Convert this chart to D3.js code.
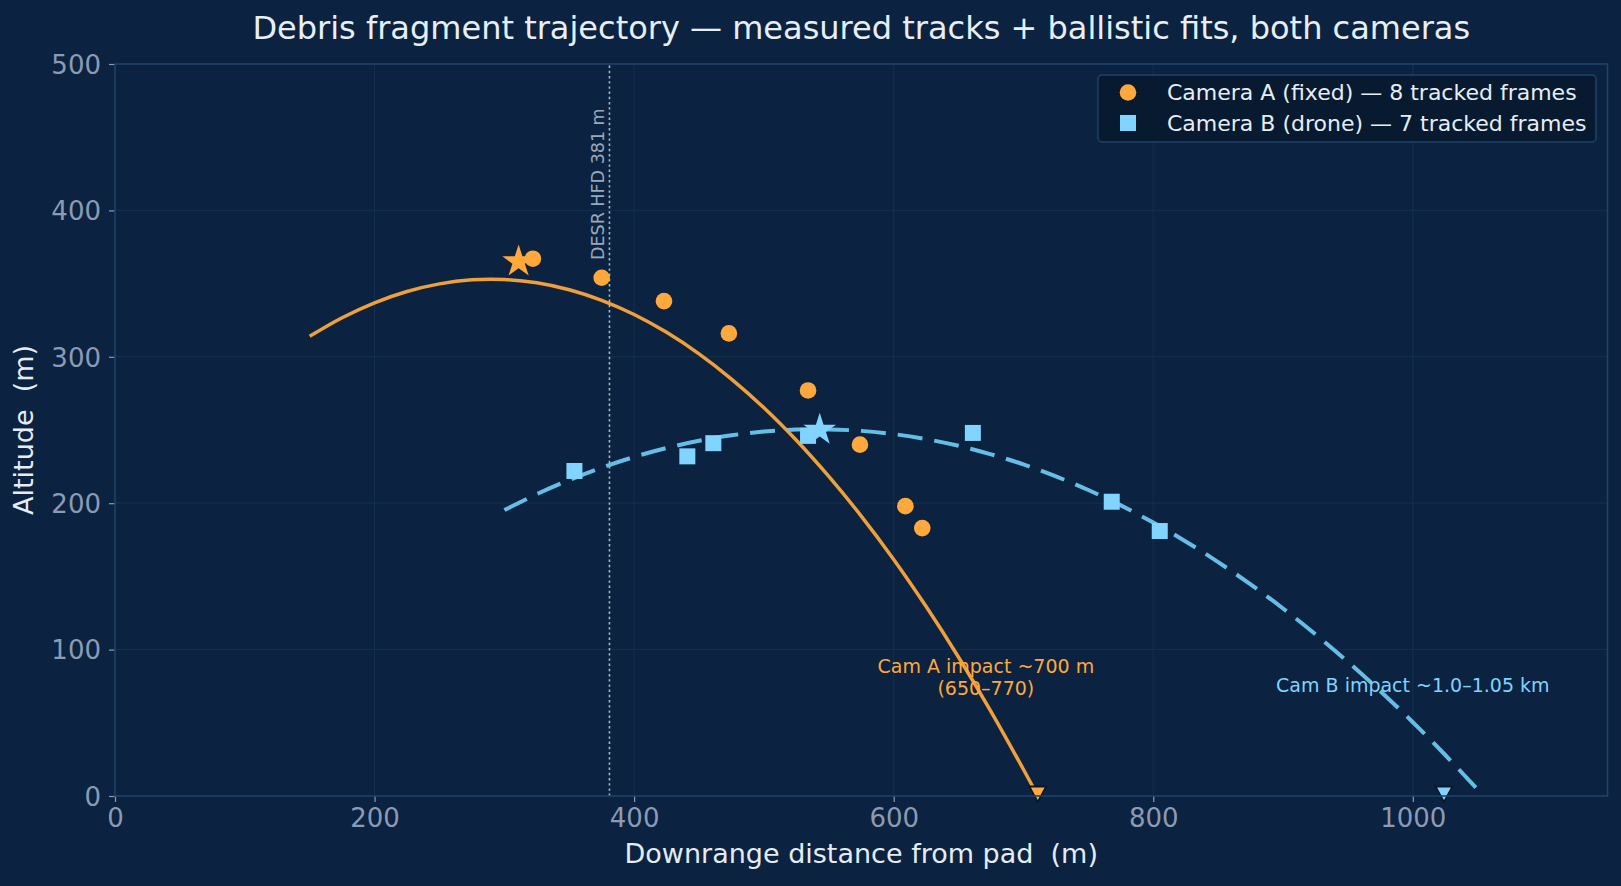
<!DOCTYPE html>
<html>
<head>
<meta charset="utf-8">
<script src="https://d3js.org/d3.v7.min.js"></script>
<style>
  html, body { margin: 0; padding: 0; background: #0b2340; }
  svg { display: block; }
</style>
</head>
<body>
<div id="chart"></div>
<script>
// measured tracks (m)
var camA_x = [322, 375, 423, 473, 534, 574, 609, 622];
var camA_y = [367, 354, 338, 316, 277, 240, 198, 183];
var camB_x = [354, 441, 461, 534, 661, 768, 805];
var camB_y = [222, 232, 241, 246, 248, 201, 181];

// ballistic fits, every 25 m
var fitA_x = [150, 175, 200, 225, 250, 275, 300, 325, 350, 375, 400, 425, 450, 475, 500, 525, 550, 575, 600, 625, 650, 675, 700, 711];
var fitA_y = [314, 326.7, 336.9, 344.6, 349.8, 352.6, 352.8, 350.6, 345.8, 338.6, 328.9, 316.7, 302, 284.8, 265.2, 243, 218.3, 191.2, 161.6, 129.4, 94.8, 57.7, 18.1, 0];
var fitB_x = [300, 325, 350, 375, 400, 425, 450, 475, 500, 525, 550, 575, 600, 625, 650, 675, 700, 725, 750, 775, 800, 825, 850, 875, 900, 925, 950, 975, 1000, 1025, 1052];
var fitB_y = [195.3, 206.2, 215.8, 224.3, 231.6, 237.7, 242.6, 246.4, 248.9, 250.3, 250.4, 249.4, 247.2, 243.8, 239.2, 233.4, 226.5, 218.3, 209, 198.5, 186.8, 173.9, 159.8, 144.5, 128.1, 110.4, 91.6, 71.6, 50.4, 28, 2.4];

// apex stars, impact points, HFD marker
var starA = [311, 365];
var starB = [543, 250];
var impactA = 711;
var impactB = 1024;
var hfd = 381;

var xTicks = [0, 200, 400, 600, 800, 1000];
var yTicks = [0, 100, 200, 300, 400, 500];

var W = 1621, H = 886;
var margin = {top: 64, right: 13.5, bottom: 90, left: 115};
var font = "DejaVu Sans";
var orange = "#ffa83c", orangeLine = "#f0a03a";
var blue = "#80d4ff", blueLine = "#6cc6ee";

var svg = d3.select("#chart").append("svg")
    .attr("width", W)
    .attr("height", H)
    .style("background", "#0b2340");

var x = d3.scaleLinear().domain([0, 1150]).range([margin.left, W - margin.right]);
var y = d3.scaleLinear().domain([0, 500]).range([H - margin.bottom, margin.top]);

svg.append("defs").append("clipPath").attr("id", "plotClip")
  .append("rect")
    .attr("x", x(0)).attr("y", y(500))
    .attr("width", x(1150) - x(0)).attr("height", y(0) - y(500));

// grid
var grid = svg.append("g").attr("class", "grid");
grid.selectAll(".gx").data(xTicks.slice(1)).enter().append("line")
    .attr("x1", function(d){ return x(d); }).attr("x2", function(d){ return x(d); })
    .attr("y1", y(0)).attr("y2", y(500))
    .attr("stroke", "#14304f").attr("stroke-width", 1);
grid.selectAll(".gy").data(yTicks.slice(1, -1)).enter().append("line")
    .attr("x1", x(0)).attr("x2", x(1150))
    .attr("y1", function(d){ return y(d); }).attr("y2", function(d){ return y(d); })
    .attr("stroke", "#14304f").attr("stroke-width", 1);

// axes
var xAxis = svg.append("g")
    .attr("transform", "translate(0," + y(0) + ")")
    .call(d3.axisBottom(x).tickValues(xTicks).tickSize(6).tickPadding(7).tickFormat(d3.format("d")));
var yAxis = svg.append("g")
    .attr("transform", "translate(" + x(0) + ",0)")
    .call(d3.axisLeft(y).tickValues(yTicks).tickSize(6).tickPadding(8).tickFormat(d3.format("d")));
[xAxis, yAxis].forEach(function(a){
  a.select(".domain").remove();
  a.selectAll(".tick line").attr("stroke", "#8b9bb4").attr("stroke-width", 1.2);
  a.selectAll(".tick text")
    .attr("fill", "#8b9bb4")
    .style("font-family", font)
    .style("font-size", "26px");
});
yAxis.selectAll(".tick text").attr("dy", "0.36em");

var plot = svg.append("g").attr("clip-path", "url(#plotClip)");

// DESR HFD line
plot.append("line")
    .attr("x1", x(hfd)).attr("x2", x(hfd))
    .attr("y1", y(0)).attr("y2", y(500))
    .attr("stroke", "#a9b7c9").attr("stroke-width", 1.6)
    .attr("stroke-dasharray", "2.4,2.8");
svg.append("text")
    .attr("transform", "translate(" + (x(hfd) - 5) + "," + 260 + ") rotate(-90)")
    .attr("fill", "#98a8bd")
    .style("font-family", font).style("font-size", "17.5px")
    .text("DESR HFD " + hfd + " m");

var line = d3.line()
    .x(function(d){ return x(d[0]); })
    .y(function(d){ return y(d[1]); })
    .curve(d3.curveCatmullRom);

var fitA = fitA_x.map(function(v, i){ return [v, fitA_y[i]]; });
var fitB = fitB_x.map(function(v, i){ return [v, fitB_y[i]]; });

plot.append("path").datum(fitA)
    .attr("d", line)
    .attr("fill", "none").attr("stroke", orangeLine).attr("stroke-width", 3.5);
plot.append("path").datum(fitB)
    .attr("d", line)
    .attr("fill", "none").attr("stroke", blueLine).attr("stroke-width", 4)
    .attr("stroke-dasharray", "25,12").attr("opacity", 0.95);

// measured points
plot.selectAll(".ptA").data(camA_x).enter().append("circle")
    .attr("cx", function(d){ return x(d); })
    .attr("cy", function(d, i){ return y(camA_y[i]); })
    .attr("r", 8.3)
    .attr("fill", orange);
plot.selectAll(".ptB").data(camB_x).enter().append("rect")
    .attr("x", function(d){ return x(d) - 8; })
    .attr("y", function(d, i){ return y(camB_y[i]) - 8; })
    .attr("width", 16).attr("height", 16)
    .attr("fill", blue);

// apex stars
var star = d3.symbol().type(d3.symbolStar).size(330);
plot.append("path").attr("d", star)
    .attr("transform", "translate(" + x(starA[0]) + "," + y(starA[1]) + ")")
    .attr("fill", orange);
plot.append("path").attr("d", star)
    .attr("transform", "translate(" + x(starB[0]) + "," + y(starB[1]) + ")")
    .attr("fill", blue);

// impact triangles (not clipped, they sit on the axis)
var tri = "M-8.5,-7.5L8.5,-7.5L0,8Z";
[[impactA, orange], [impactB, blue]].forEach(function(p){
  svg.append("path").attr("d", tri)
      .attr("transform", "translate(" + x(p[0]) + "," + (y(0) - 2) + ")")
      .attr("fill", p[1]).attr("stroke", "#0a1628").attr("stroke-width", 1.8);
});

// spines
svg.append("rect")
    .attr("x", x(0)).attr("y", y(500))
    .attr("width", x(1150) - x(0)).attr("height", y(0) - y(500))
    .attr("fill", "none").attr("stroke", "#1f4269").attr("stroke-width", 1.6);

// annotations
var annA = svg.append("text")
    .attr("text-anchor", "middle")
    .attr("fill", orange)
    .style("font-family", font).style("font-size", "19px");
annA.append("tspan").attr("x", x(671)).attr("y", 673).text("Cam A impact ~700 m");
annA.append("tspan").attr("x", x(671)).attr("y", 695).text("(650\u2013770)");
svg.append("text")
    .attr("x", x(1000)).attr("y", 692)
    .attr("text-anchor", "middle")
    .attr("fill", blue)
    .style("font-family", font).style("font-size", "19px")
    .text("Cam B impact ~1.0\u20131.05 km");

// titles
svg.append("text")
    .attr("x", (x(0) + x(1150)) / 2).attr("y", 39)
    .attr("text-anchor", "middle")
    .attr("fill", "#e8eef5")
    .style("font-family", font).style("font-size", "32px")
    .text("Debris fragment trajectory \u2014 measured tracks + ballistic fits, both cameras");
svg.append("text")
    .attr("x", (x(0) + x(1150)) / 2).attr("y", 863)
    .attr("text-anchor", "middle")
    .attr("fill", "#e5ecf4")
    .style("font-family", font).style("font-size", "27px")
    .style("white-space", "pre")
    .text("Downrange distance from pad  (m)");
svg.append("text")
    .attr("transform", "translate(33," + ((y(0) + y(500)) / 2) + ") rotate(-90)")
    .attr("text-anchor", "middle")
    .attr("fill", "#e5ecf4")
    .style("font-family", font).style("font-size", "27px")
    .style("white-space", "pre")
    .text("Altitude  (m)");

// legend
var leg = svg.append("g").attr("transform", "translate(1098,75)");
leg.append("rect")
    .attr("width", 498).attr("height", 67).attr("rx", 4)
    .attr("fill", "#081a30").attr("stroke", "#1f4269").attr("stroke-width", 1.5);
leg.append("circle").attr("cx", 30).attr("cy", 17.5).attr("r", 8.3).attr("fill", orange);
leg.append("rect").attr("x", 22).attr("y", 40).attr("width", 16).attr("height", 16).attr("fill", blue);
leg.append("text").attr("x", 69).attr("y", 25)
    .attr("fill", "#e6edf5").style("font-family", font).style("font-size", "22px")
    .text("Camera A (fixed) \u2014 " + camA_x.length + " tracked frames");
leg.append("text").attr("x", 69).attr("y", 55.5)
    .attr("fill", "#e6edf5").style("font-family", font).style("font-size", "22px")
    .text("Camera B (drone) \u2014 " + camB_x.length + " tracked frames");
</script>
</body>
</html>
